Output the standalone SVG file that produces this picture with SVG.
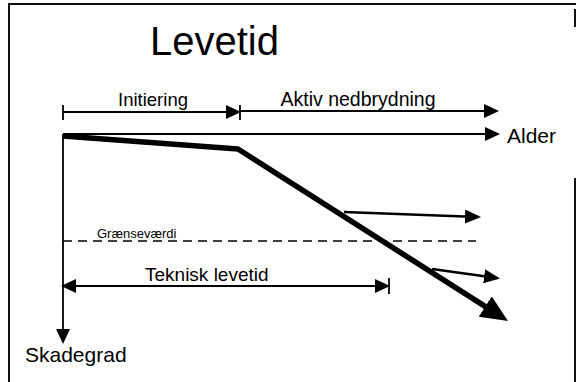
<svg xmlns="http://www.w3.org/2000/svg" width="576" height="382" viewBox="0 0 576 382">
<style>
text{font-family:"Liberation Sans",Arial,sans-serif;fill:#000}
.thin{stroke:#000;stroke-width:1.8;fill:none}
.frame{stroke:#111;stroke-width:2;fill:none}
</style>
<defs>
<marker id="head" markerUnits="userSpaceOnUse" markerWidth="15" markerHeight="14" refX="13" refY="7" orient="auto">
<path d="M0,0 L15,7 L0,14 z" fill="#000"/>
</marker>
<marker id="headStart" markerUnits="userSpaceOnUse" markerWidth="15" markerHeight="14" refX="2" refY="7" orient="auto">
<path d="M15,0 L0,7 L15,14 z" fill="#000"/>
</marker>
<marker id="midhead" markerUnits="userSpaceOnUse" markerWidth="16" markerHeight="14" refX="13" refY="7" orient="auto">
<path d="M0,0 L16,7 L0,14 z" fill="#000"/>
</marker>
<marker id="bighead" markerUnits="userSpaceOnUse" markerWidth="27" markerHeight="24" refX="11" refY="12" orient="auto">
<path d="M0,0 L27,12 L0,24 z" fill="#000"/>
</marker>
</defs>
<g id="frame">
<line class="frame" x1="8" y1="4" x2="576" y2="4"/>
<line class="frame" x1="9" y1="4" x2="9" y2="382"/>
<line class="frame" x1="575" y1="9" x2="575" y2="27"/>
<line class="frame" x1="575" y1="178" x2="575" y2="382"/>
</g>
<g id="title"><text x="150" y="55" font-size="40">Levetid</text></g>
<g id="connectors">
<line class="thin" x1="63" y1="112" x2="239" y2="112" marker-end="url(#head)"/>
<line class="thin" x1="63" y1="105" x2="63" y2="120"/>
<line class="thin" x1="240" y1="105" x2="240" y2="120"/>
<line class="thin" x1="240" y1="111" x2="497" y2="111" marker-end="url(#head)"/>
<line class="thin" x1="63" y1="134" x2="498" y2="134" marker-end="url(#head)"/>
<line class="thin" x1="63" y1="134" x2="63" y2="342" marker-end="url(#head)"/>
<polyline points="63,136 238,149 494.5,312.4" stroke="#000" stroke-width="5.5" fill="none" stroke-linejoin="round" marker-end="url(#bighead)"/>
<line x1="344" y1="212" x2="478" y2="217" stroke="#000" stroke-width="2.6" marker-end="url(#midhead)"/>
<line x1="432" y1="269" x2="497" y2="278" stroke="#000" stroke-width="2.6" marker-end="url(#midhead)"/>
<line x1="63" y1="241" x2="476" y2="241" stroke="#000" stroke-width="1.4" stroke-dasharray="9,6"/>
<line class="thin" x1="63" y1="286" x2="388" y2="286" marker-start="url(#headStart)" marker-end="url(#head)"/>
<line class="thin" x1="389" y1="278" x2="389" y2="294"/>
</g>
<g id="labels">
<text x="153" y="106" font-size="18.5" text-anchor="middle">Initiering</text>
<text x="358" y="106" font-size="19.5" text-anchor="middle">Aktiv nedbrydning</text>
<text x="507" y="143" font-size="21">Alder</text>
<text x="97" y="238" font-size="13">Grænseværdi</text>
<text x="145" y="281" font-size="19">Teknisk levetid</text>
<text x="25" y="362" font-size="21">Skadegrad</text>
</g>
</svg>
